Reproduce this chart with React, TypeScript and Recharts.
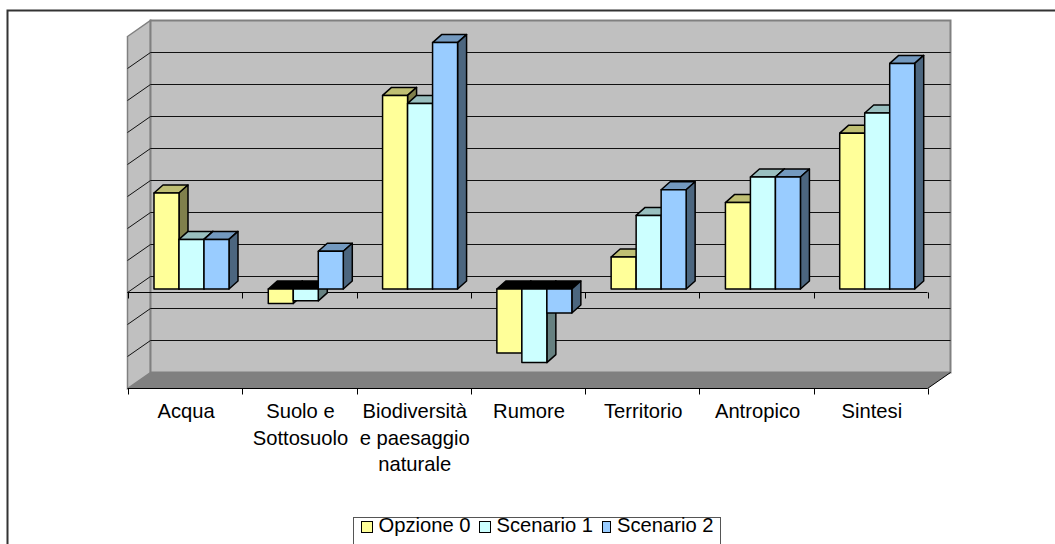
import { BarChart, Bar, XAxis, YAxis, Legend, Customized, usePlotArea } from 'recharts';

const categories = ['Acqua', 'Suolo e Sottosuolo', 'Biodiversità e paesaggio naturale', 'Rumore', 'Territorio', 'Antropico', 'Sintesi'];
const tickLines = [['Acqua'], ['Suolo e', 'Sottosuolo'], ['Biodiversità', 'e paesaggio', 'naturale'], ['Rumore'], ['Territorio'], ['Antropico'], ['Sintesi']];
const opzione0 = [3, -0.45, 6.05, -2, 1, 2.7, 4.87];
const scenario1 = [1.55, -0.37, 5.8, -2.3, 2.3, 3.5, 5.5];
const scenario2 = [1.55, 1.18, 7.7, -0.75, 3.1, 3.5, 7.05];
const gridTicks = [-3, -2, -1, 0, 1, 2, 3, 4, 5, 6, 7, 8];
const legendWidths = [118, 123, 112];

const data = categories.map((name, i) => ({
  name,
  opzione0: opzione0[i],
  scenario1: scenario1[i],
  scenario2: scenario2[i],
}));

const FONT = 'Liberation Sans, Arial, sans-serif';
const BACK_DX = 16.5;
const BACK_DY = -12.5;
const FRONT_DX = -6.5;
const FRONT_DY = 3.5;
const BAR_DX = 9;
const BAR_DY = 8;

function Walls() {
  const plot = usePlotArea();
  if (!plot) return null;
  const yOf = (v: number) => plot.y + (plot.height * (8 - v)) / 11;
  const bx0 = plot.x + BACK_DX;
  const bx1 = plot.x + plot.width + BACK_DX;
  const fx0 = plot.x + FRONT_DX;
  const fx1 = plot.x + plot.width + FRONT_DX;
  const backTop = yOf(8) + BACK_DY;
  const backBottom = yOf(-3) + BACK_DY;
  const frontTop = yOf(8) + FRONT_DY;
  const frontBottom = yOf(-3) + FRONT_DY;
  const zero = yOf(0) + FRONT_DY;
  const step = plot.width / categories.length;
  const edges = Array.from({ length: categories.length + 1 }, (_, i) => Math.ceil(fx0 + i * step) + 0.5);

  return (
    <g>
      {/* outer chart frame, only top and left are visible */}
      <path d="M7.5 1000 V10.5 H1055" fill="none" stroke="#333" strokeWidth={2} />
      <polygon points={`${fx0},${frontTop} ${bx0},${backTop} ${bx0},${backBottom} ${fx0},${frontBottom}`} fill="#c0c0c0" stroke="#808080" strokeWidth={1.5} />
      <rect x={bx0} y={backTop} width={plot.width} height={backBottom - backTop} fill="#c0c0c0" stroke="#808080" strokeWidth={2} />
      <polygon points={`${fx0},${frontBottom} ${bx0},${backBottom} ${bx1},${backBottom} ${fx1},${frontBottom}`} fill="#808080" />
      {gridTicks.slice(1, -1).map((v) => (
        <g key={v}>
          <line x1={bx0} x2={bx1} y1={yOf(v) + BACK_DY} y2={yOf(v) + BACK_DY} stroke="#111" strokeWidth={1} />
          <line x1={fx0} x2={bx0} y1={yOf(v) + FRONT_DY} y2={yOf(v) + BACK_DY} stroke="#111" strokeWidth={1} />
        </g>
      ))}
      <line x1={fx1} x2={bx1} y1={frontBottom} y2={backBottom} stroke="#000" strokeWidth={1} />
      <line x1={fx0} x2={fx1} y1={zero} y2={zero} stroke="#000" strokeWidth={1} />
      <line x1={fx0} x2={fx1} y1={frontBottom} y2={frontBottom} stroke="#000" strokeWidth={1} />
      {edges.map((x) => (
        <g key={x}>
          <line x1={x} x2={x} y1={zero} y2={zero + 6} stroke="#000" strokeWidth={1} />
          <line x1={x} x2={x} y1={frontBottom} y2={frontBottom + 6} stroke="#000" strokeWidth={1} />
        </g>
      ))}
    </g>
  );
}

const box3d = (top: string, side: string) => (props: any) => {
  const { x, y, width, height, fill, value } = props;
  const y0 = Math.min(y, y + height);
  const y1 = Math.max(y, y + height);
  const negative = Array.isArray(value) ? value[1] < 0 || value[0] < 0 : value < 0;
  return (
    <g stroke="#000" strokeWidth={1.5} strokeLinejoin="round">
      <polygon
        points={`${x},${y0} ${x + BAR_DX},${y0 - BAR_DY} ${x + width + BAR_DX},${y0 - BAR_DY} ${x + width},${y0}`}
        fill={negative ? '#000' : top}
      />
      <polygon
        points={`${x + width},${y0} ${x + width + BAR_DX},${y0 - BAR_DY} ${x + width + BAR_DX},${y1 - BAR_DY} ${x + width},${y1}`}
        fill={side}
      />
      <rect x={x} y={y0} width={width} height={y1 - y0} fill={fill} />
    </g>
  );
};

const CategoryTick = (props: any) => {
  const { x, y, index } = props;
  const cx = x + FRONT_DX + 1.5;
  return (
    <text x={cx} y={y} textAnchor="middle" fontFamily={FONT} fontSize={20.2} fill="#000">
      {tickLines[index].map((line, i) => (
        <tspan key={line} x={cx} dy={i === 0 ? 25 : 26.5}>
          {line}
        </tspan>
      ))}
    </text>
  );
};

const LegendBox = (props: any) => (
  <div
    style={{
      boxSizing: 'border-box',
      width: 368,
      height: 30,
      border: '1.5px solid #555',
      background: '#fff',
      display: 'flex',
      alignItems: 'flex-start',
      paddingLeft: 6.5,
      fontFamily: FONT,
      fontSize: 20.2,
      color: '#000',
    }}
  >
    {props.payload.map((item: any, i: number) => (
      <span key={item.value} style={{ display: 'flex', alignItems: 'center', width: legendWidths[i], lineHeight: '15px', whiteSpace: 'nowrap' }}>
        <span style={{ boxSizing: 'border-box', width: 12, height: 12, border: '1px solid #000', background: item.color, marginRight: 6, marginTop: 3 }} />
        {item.value}
      </span>
    ))}
  </div>
);

export default function App() {
  return (
    <div style={{ position: 'absolute', left: 0, top: 0, width: 1055, height: 544, overflow: 'hidden', background: '#fff' }}>
      <BarChart
        width={1055}
        height={544}
        data={data}
        margin={{ top: 33, right: 121, bottom: 59, left: 134 }}
        barGap={0}
        barSize={25}
      >
        <Customized component={Walls} />
        <XAxis dataKey="name" height={100} interval={0} axisLine={false} tickLine={false} tick={CategoryTick} />
        <YAxis hide domain={[-3, 8]} ticks={gridTicks} />
        <Legend
          layout="horizontal"
          verticalAlign="middle"
          align="center"
          content={LegendBox}
          wrapperStyle={{ left: 353, top: 517, width: 368, margin: 0 }}
        />
        <Bar dataKey="opzione0" name="Opzione 0" fill="#ffff99" isAnimationActive={false} shape={box3d('#bfbf73', '#80804c')} />
        <Bar dataKey="scenario1" name="Scenario 1" fill="#ccffff" isAnimationActive={false} shape={box3d('#99bfbf', '#668080')} />
        <Bar dataKey="scenario2" name="Scenario 2" fill="#99ccff" isAnimationActive={false} shape={box3d('#7399bf', '#4c667f')} />
      </BarChart>
    </div>
  );
}
